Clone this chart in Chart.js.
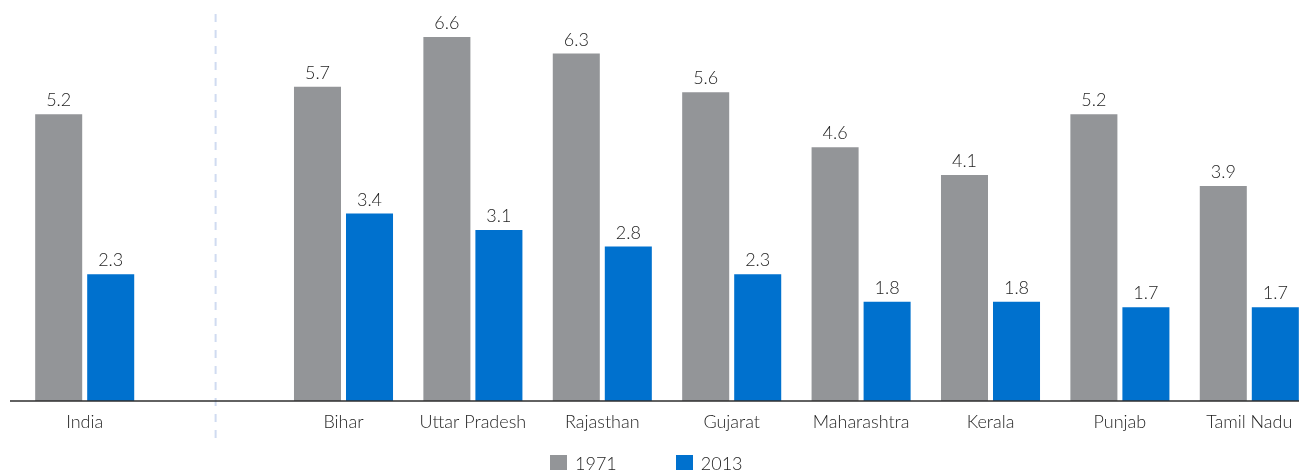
<!DOCTYPE html>
<html>
<head>
<meta charset="utf-8">
<script src="https://cdn.jsdelivr.net/npm/chart.js@4"></script>
<style>
  html, body { margin: 0; padding: 0; overflow: hidden; background: #fff; }
  #wrap { position: relative; width: 1299px; height: 470px; overflow: hidden; }
  #chart { position: absolute; left: 0; top: 0; }
  #legend { position: absolute; left: 550px; top: 452px; display: flex; font-family: Lato, sans-serif; font-weight: 300; font-size: 18px; color: #1e1e1e; }
  #legend .item { display: flex; align-items: center; margin-right: 59px; }
  #legend .box { width: 17px; height: 17px; margin-right: 8px; }
</style>
</head>
<body>
<div id="wrap">
  <canvas id="chart" width="1314" height="470"></canvas>
  <div id="legend"></div>
</div>
<script>
// empty slot after India holds the dashed separator
const categories = ['India', '', 'Bihar', 'Uttar Pradesh', 'Rajasthan', 'Gujarat', 'Maharashtra', 'Kerala', 'Punjab', 'Tamil Nadu'];
const values1971 = [5.2, null, 5.7, 6.6, 6.3, 5.6, 4.6, 4.1, 5.2, 3.9];
const values2013 = [2.3, null, 3.4, 3.1, 2.8, 2.3, 1.8, 1.8, 1.7, 1.7];
const seriesNames = ['1971', '2013'];

const GREY = '#939598';
const BLUE = '#0071ce';
const TEXT = '#1e1e1e';
const FONT = { family: 'Lato', size: 18, weight: 300 };

// numbers above each bar + the baseline
const valueLabels = {
  id: 'valueLabels',
  afterDatasetsDraw (chart) {
    const ctx = chart.ctx;
    const y0 = chart.scales.y.getPixelForValue(0);
    ctx.save();
    ctx.strokeStyle = '#2e2e2e';
    ctx.lineWidth = 1.6;
    ctx.beginPath();
    ctx.moveTo(10, y0);
    ctx.lineTo(chart.width, y0);
    ctx.stroke();

    ctx.font = '300 18px Lato';
    ctx.fillStyle = TEXT;
    ctx.textAlign = 'center';
    ctx.textBaseline = 'alphabetic';
    chart.data.datasets.forEach((ds, i) => {
      chart.getDatasetMeta(i).data.forEach((bar, j) => {
        if (ds.data[j] == null) return;
        ctx.fillText(ds.data[j].toFixed(1), bar.x, bar.y - 8);
      });
    });
    ctx.restore();
  }
};

// dashed line between India and the states
const separator = {
  id: 'separator',
  beforeDatasetsDraw (chart) {
    const ctx = chart.ctx;
    const x = chart.scales.x.getPixelForValue(1) + 1.5;
    ctx.save();
    ctx.strokeStyle = '#d0dbf1';
    ctx.lineWidth = 2;
    ctx.setLineDash([8, 8]);
    ctx.beginPath();
    ctx.moveTo(x, 14);
    ctx.lineTo(x, 438);
    ctx.stroke();
    ctx.restore();
  }
};

const chart = new Chart(document.getElementById('chart'), {
  type: 'bar',
  data: {
    labels: categories,
    datasets: [
      { label: seriesNames[0], data: values1971, backgroundColor: GREY },
      { label: seriesNames[1], data: values2013, backgroundColor: BLUE }
    ]
  },
  options: {
    responsive: false,
    animation: false,
    devicePixelRatio: 1,
    layout: { padding: { left: 20, right: 0, top: 15, bottom: 37 } },
    datasets: { bar: { categoryPercentage: 0.804, barPercentage: 0.904 } },
    plugins: {
      legend: { display: false },
      tooltip: { enabled: false }
    },
    scales: {
      x: {
        grid: { display: false, drawTicks: false },
        border: { display: false },
        ticks: { color: TEXT, font: FONT, padding: 10, maxRotation: 0, autoSkip: false },
        afterFit: (s) => { s.height = 32; }
      },
      y: { display: false, min: 0, max: 7 }
    }
  },
  plugins: [separator, valueLabels]
});

// html legend from the chart's own legend items
const legendEl = document.getElementById('legend');
chart.options.plugins.legend.labels.generateLabels(chart).forEach((item) => {
  const el = document.createElement('div');
  el.className = 'item';
  el.innerHTML = '<span class="box" style="background:' + item.fillStyle + '"></span><span>' + item.text + '</span>';
  legendEl.appendChild(el);
});
</script>
</body>
</html>
